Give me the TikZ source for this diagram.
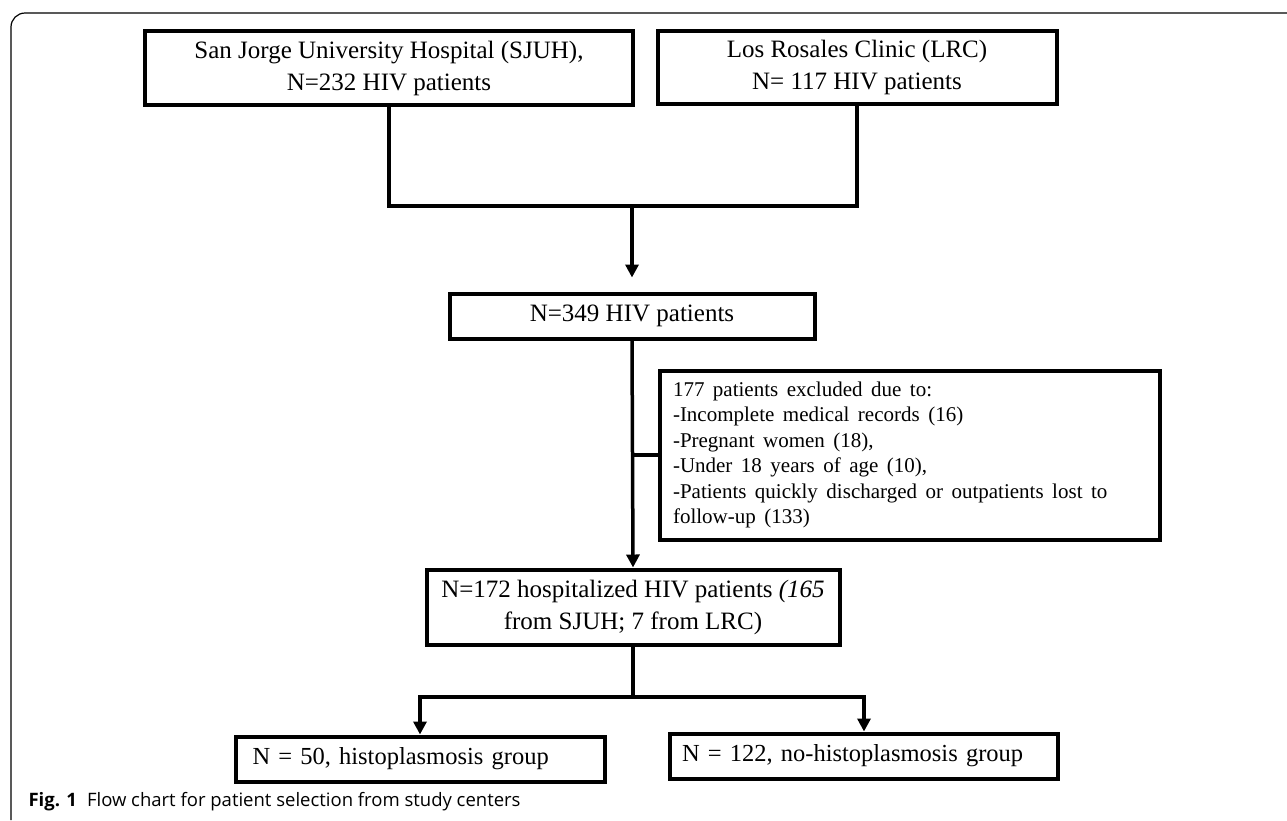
\documentclass[tikz,border=0pt]{standalone}
\usepackage{fontspec}
\setmainfont{Liberation Serif}
\setsansfont{Open Sans}
\usetikzlibrary{arrows.meta,positioning}

\begin{document}
\begin{tikzpicture}[x=1pt,y=-1pt,
  box/.style={draw,line width=4pt,inner sep=0pt,align=center,
    font=\fontsize{25}{32}\selectfont},
  group/.style={box,align=left,minimum height=45pt,
    font=\fontsize{24.5}{30}\selectfont},
  link/.style={line width=3.5pt},
  arr/.style={link,-{Triangle[length=13pt,width=13pt]}}]
\useasboundingbox (0,0) rectangle (1287,820);
% frame
\draw[line width=1.2pt,rounded corners=14pt](11,820)--(11,13)--(1287,13);
% boxes
\node[box,minimum width=488pt,minimum height=74pt](sjuh)at(389,68)
  {San Jorge University Hospital (SJUH),\\N=232 HIV patients};
\node[box,minimum width=399pt,minimum height=73pt](lrc)at(857,67)
  {Los Rosales Clinic (LRC)\\N= 117 HIV patients};
\node[box,minimum width=365pt,minimum height=45pt](total)at(632,316)
  {N=349 HIV patients};
\node[box,align=left,text width=474pt,inner xsep=13pt,minimum height=169pt,
  font=\fontsize{21}{25.5}\selectfont](excl)at(910,455)
  {\spaceskip=8.5pt\relax 177 patients excluded due to:\\
   -Incomplete medical records (16)\\
   -Pregnant women (18),\\
   -Under 18 years of age (10),\\
   -Patients quickly discharged or outpatients lost to\\
   follow-up (133)};
\node[box,minimum width=413pt,minimum height=75pt](hosp)at(633,607)
  {N=172 hospitalized HIV patients \textit{(165}\\from SJUH; 7 from LRC)};
\node[group,text width=335pt,inner xsep=17pt](histo)at(420,759)
  {N = 50, histoplasmosis group};
\node[group,text width=364pt,inner xsep=12pt](nohisto)at(864,756)
  {N = 122, no-histoplasmosis group};
% connectors
\coordinate(mid)at(632,206);
\coordinate(split)at(633,697);
\draw[link](sjuh.south)|-(mid)-|(lrc.south);
\draw[arr,shorten >=14pt](mid)--(total.north);
\draw[arr](total.south)--(hosp.north);
\draw[link](total.south|-excl.west)--(excl.west);
\draw[link](hosp.south)--(split);
\draw[arr](split)-|(histo.north);
\draw[arr](split)-|(nohisto.north);
\node[anchor=base west,font=\sffamily\fontsize{18.5}{22}\selectfont](cap)at(25,806)
  {\textbf{Fig. 1}\hspace{10pt}Flow chart for patient selection from study centers};
\end{tikzpicture}
\end{document}
